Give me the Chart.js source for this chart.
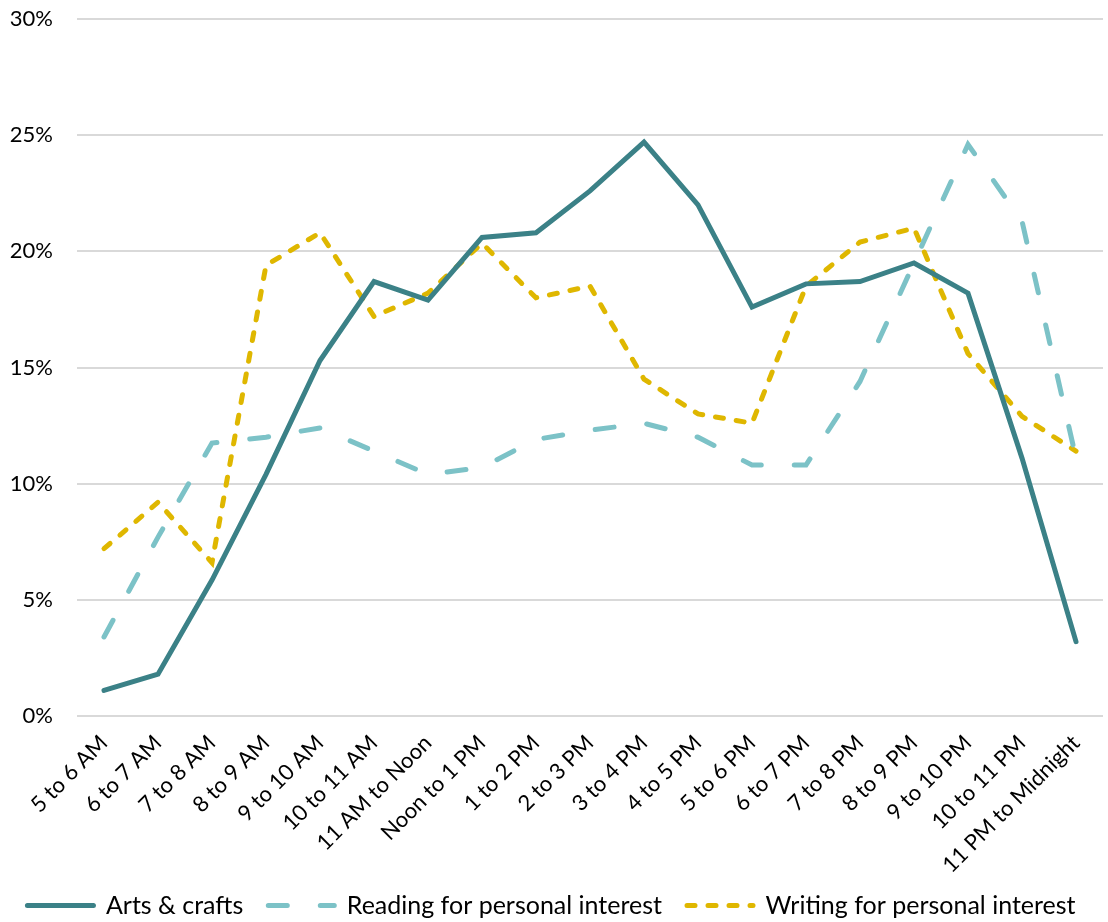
<!DOCTYPE html>
<html>
<head>
<meta charset="utf-8">
<script src="https://cdn.jsdelivr.net/npm/chart.js@4.4.1/dist/chart.umd.min.js"></script>
<style>
html,body{margin:0;padding:0;background:#fff;}
#wrap{width:1108px;height:922px;position:relative;}
</style>
</head>
<body>
<div id="wrap"><canvas id="c" width="1108" height="922"></canvas></div>
<script>
const categories = ["5 to 6 AM","6 to 7 AM","7 to 8 AM","8 to 9 AM","9 to 10 AM","10 to 11 AM","11 AM to Noon","Noon to 1 PM","1 to 2 PM","2 to 3 PM","3 to 4 PM","4 to 5 PM","5 to 6 PM","6 to 7 PM","7 to 8 PM","8 to 9 PM","9 to 10 PM","10 to 11 PM","11 PM to Midnight"];
const artsCrafts = [1.1,1.8,5.85,10.4,15.3,18.7,17.9,20.6,20.8,22.6,24.7,22.0,17.6,18.6,18.7,19.5,18.2,11.1,3.2];
const reading = [3.4,7.7,11.75,12.0,12.4,11.4,10.4,10.7,11.9,12.3,12.6,12.0,10.8,10.8,14.4,19.5,24.6,21.3,11.1];
const writing = [7.2,9.2,6.6,19.4,20.8,17.2,18.2,20.35,18.0,18.5,14.5,13.0,12.6,18.5,20.4,21.0,15.6,12.9,11.4];
const seriesNames = ["Arts & crafts","Reading for personal interest","Writing for personal interest"];
const yTicks = [0,5,10,15,20,25,30];

const FONT = "Lato, 'Open Sans', sans-serif";
const baseGen = Chart.defaults.plugins.legend.labels.generateLabels;
const labelRoom = {
  id: 'labelRoom',
  afterLayout(chart) { chart.scales.x.bottom = chart.height; }
};
new Chart(document.getElementById('c'), {
  type: 'line',
  plugins: [labelRoom],
  data: {
    labels: categories,
    datasets: [
      {label: seriesNames[0], data: artsCrafts, borderColor: '#3b8187', backgroundColor: '#3b8187', borderWidth: 5, pointRadius: 0, borderCapStyle: 'round', borderJoinStyle: 'miter', pointStyle: 'line', tension: 0},
      {label: seriesNames[1], data: reading, borderColor: '#7cc2c7', backgroundColor: '#7cc2c7', borderWidth: 5, pointRadius: 0, borderDash: [19, 33], borderCapStyle: 'round', pointStyle: 'line', tension: 0},
      {label: seriesNames[2], data: writing, borderColor: '#dfb700', backgroundColor: '#dfb700', borderWidth: 5, pointRadius: 0, borderDash: [8, 13], borderCapStyle: 'round', pointStyle: 'line', tension: 0}
    ]
  },
  options: {
    responsive: false,
    animation: false,
    layout: {autoPadding: false, padding: {left: 0, right: 5, top: 19, bottom: -6}},
    plugins: {
      legend: {
        position: 'bottom',
        labels: {
          usePointStyle: true,
          pointStyleWidth: 66,
          boxHeight: 5,
          padding: 25,
          color: '#000',
          font: {family: FONT, size: 25},
          generateLabels: (chart) => baseGen(chart).map((item) => {
            const ds = chart.data.datasets[item.datasetIndex];
            item.lineDash = ds.borderDash || [];
            item.lineWidth = ds.borderWidth;
            item.lineCap = 'round';
            item.strokeStyle = ds.borderColor;
            return item;
          })
        }
      },
      tooltip: {enabled: false}
    },
    scales: {
      x: {
        offset: true,
        grid: {display: false, drawTicks: false},
        border: {display: false},
        afterFit: (s) => { s.paddingLeft = 0; s.paddingRight = 0; s.height = 152; },
        ticks: {
          autoSkip: false,
          maxRotation: 45,
          minRotation: 45,
          padding: 14,
          color: '#000',
          font: {family: FONT, size: 22}
        }
      },
      y: {
        min: 0,
        max: 30,
        afterBuildTicks: (ax) => { ax.ticks = yTicks.map(v => ({value: v})); },
        afterFit: (s) => { s.paddingTop = 0; s.paddingBottom = 0; s.width = 77; },
        grid: {color: '#d9d9d9', lineWidth: 2, drawTicks: false},
        border: {display: false},
        ticks: {
          padding: 24,
          color: '#000',
          font: {family: FONT, size: 22},
          callback: (v) => v + '%'
        }
      }
    }
  }
});
</script>
</body>
</html>
